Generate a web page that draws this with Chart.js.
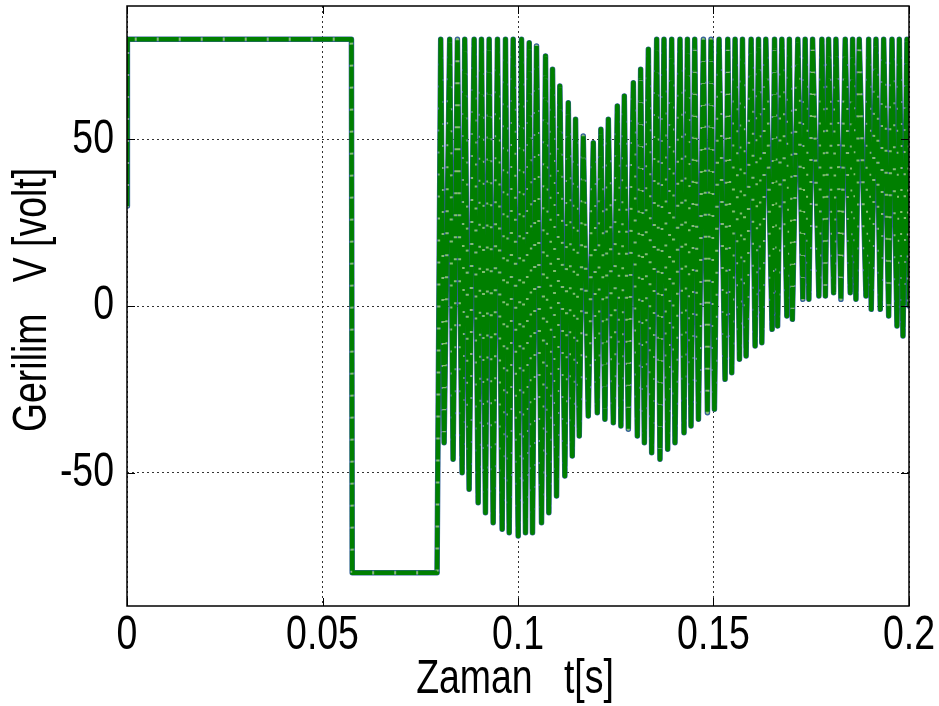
<!DOCTYPE html>
<html>
<head>
<meta charset="utf-8">
<title>Gerilim - Zaman</title>
<script src="https://cdn.jsdelivr.net/npm/chart.js@4/dist/chart.umd.min.js"></script>
<style>
  html, body { margin: 0; padding: 0; background: #fff; }
  #wrap { width: 939px; height: 706px; }
</style>
</head>
<body>
<div id="wrap"><canvas id="voltage-chart" width="939" height="706"></canvas></div>
<script>
// 起動区間：ステップ状の電圧 (t [s], V [volt])
const stepT = [0, 0.0001, 0.0574, 0.0576, 0.0793];
const stepV = [30, 80, 80, -80, -80];

// 振動区間：ピークと谷を交互に並べた値
const oscT = [
  0.08023, 0.08110, 0.08253, 0.08340, 0.08451, 0.08571, 0.08638, 0.08750,
  0.08878, 0.08981, 0.09065, 0.09168, 0.09262, 0.09365, 0.09475, 0.09595,
  0.09680, 0.09775, 0.09877, 0.10005, 0.10090, 0.10192, 0.10287, 0.10371,
  0.10474, 0.10602, 0.10704, 0.10789, 0.10883, 0.10986, 0.11070, 0.11198,
  0.11286, 0.11388, 0.11472, 0.11567, 0.11669, 0.11797, 0.11926, 0.12028,
  0.12120, 0.12223, 0.12310, 0.12438, 0.12540, 0.12632, 0.12719, 0.12822,
  0.12950, 0.13052, 0.13137, 0.13232, 0.13334, 0.13419, 0.13547, 0.13631,
  0.13734, 0.13828, 0.13931, 0.14015, 0.14143, 0.14246, 0.14333, 0.14425,
  0.14520, 0.14615, 0.14742, 0.14845, 0.14937, 0.15024, 0.15142, 0.15296,
  0.15365, 0.15467, 0.15552, 0.15664, 0.15741, 0.15834, 0.15962, 0.16064,
  0.16151, 0.16236, 0.16338, 0.16499, 0.16561, 0.16640, 0.16748, 0.16876,
  0.16940, 0.17017, 0.17157, 0.17285, 0.17344, 0.17439, 0.17534, 0.17695,
  0.17772, 0.17862, 0.17943, 0.18072, 0.18131, 0.18259, 0.18369, 0.18497,
  0.18558, 0.18643, 0.18727, 0.18899, 0.18968, 0.19034, 0.19155, 0.19265,
  0.19352, 0.19480, 0.19565, 0.19693, 0.19752, 0.19846, 0.19949, 0.2
];
const oscV = [
  80, -41, 80, -46, 80, -50, 80, -55,
  80, -59, 80, -62, 80, -65, 80, -67,
  80, -68, 80, -69, 80, -68, 79, -68,
  78, -65, 75, -62, 71, -57, 66, -51,
  61, -45, 56, -39, 51, -33, 49, -32,
  53, -34, 56, -35, 60, -36, 63, -37,
  67, -39, 71, -41, 77, -44, 80, -46,
  80, -43, 80, -41, 80, -38, 80, -36,
  80, -34, 80, -32, 80, -31, 80, -22,
  80, -20, 80, -16, 80, -15, 80, -12,
  80, -11, 80, -7, 80, -6, 80, -3,
  80, -4, 80, 2, 80, 2, 80, 3,
  80, 3, 80, 4, 80, 2, 80, 4,
  80, 2, 80, 3, 80, -1, 80, -1,
  80, -3, 80, -6, 80, -9, 80, 0
];

// 軸の目盛りとラベル
const xTicks = [0, 0.05, 0.1, 0.15, 0.2];
const yTicks = [-50, 0, 50];
const xTitle = 'Zaman   t[s]';
const yTitle = 'Gerilim   V [volt]';

const FONT = '"Liberation Sans", Arial, sans-serif';
const FONT_SIZE = 48;
const NARROW = 0.78;   // 横方向の縮小率（細身の文字）

/**
 * 横に縮めた文字を描く
 */
function narrowText(ctx, text, x, y, align, angle) {
  ctx.save();
  ctx.translate(x, y);
  if (angle) ctx.rotate(angle);
  ctx.scale(NARROW, 1);
  ctx.textAlign = align;
  ctx.textBaseline = 'middle';
  ctx.fillText(text, 0, 0);
  ctx.restore();
}

/**
 * 枠線・内向きの目盛り線・目盛りラベル・軸タイトルを描くプラグイン
 */
const frameTicks = {
  id: 'frameTicks',
  afterDraw(chart) {
    const { ctx, chartArea: a, scales } = chart;
    ctx.save();
    ctx.strokeStyle = '#000';
    ctx.lineWidth = 1.5;
    ctx.strokeRect(a.left, a.top, a.right - a.left, a.bottom - a.top);
    ctx.lineWidth = 1;
    const len = 8;
    ctx.beginPath();
    xTicks.forEach(v => {
      const px = Math.round(scales.x.getPixelForValue(v)) + 0.5;
      ctx.moveTo(px, a.bottom); ctx.lineTo(px, a.bottom - len);
      ctx.moveTo(px, a.top); ctx.lineTo(px, a.top + len);
    });
    yTicks.forEach(v => {
      const py = Math.round(scales.y.getPixelForValue(v)) + 0.5;
      ctx.moveTo(a.left, py); ctx.lineTo(a.left + len, py);
      ctx.moveTo(a.right, py); ctx.lineTo(a.right - len, py);
    });
    ctx.stroke();

    // 目盛りラベル
    ctx.fillStyle = '#000';
    ctx.font = FONT_SIZE + 'px ' + FONT;
    xTicks.forEach(v => {
      narrowText(ctx, String(v), scales.x.getPixelForValue(v), a.bottom + 30, 'center');
    });
    yTicks.forEach(v => {
      narrowText(ctx, String(v), a.left - 13, scales.y.getPixelForValue(v), 'right');
    });

    // 軸タイトル
    narrowText(ctx, xTitle, (a.left + a.right) / 2 - 3, a.bottom + 74, 'center');
    narrowText(ctx, yTitle, 33, (a.top + a.bottom) / 2 - 6, 'center', -Math.PI / 2);
    ctx.restore();
  }
};

function buildPoints() {
  const pts = [];
  stepT.forEach((t, i) => pts.push({ x: t, y: stepV[i] }));
  oscT.forEach((t, i) => pts.push({ x: t, y: oscV[i] }));
  return pts;
}

function initVoltageChart() {
  const ctx = document.getElementById('voltage-chart').getContext('2d');

  // order が大きいものほど下に描かれる
  new Chart(ctx, {
    type: 'line',
    data: {
      datasets: [
        {
          // 緑の破線（最前面）
          data: buildPoints(),
          order: 0,
          borderColor: '#007f00',
          borderWidth: 4.5,
          borderDash: [20, 2],
          pointRadius: 0,
          tension: 0,
          borderJoinStyle: 'round'
        },
        {
          // 破線の隙間に見える明るい緑
          data: buildPoints(),
          order: 1,
          borderColor: '#86c070',
          borderWidth: 3,
          pointRadius: 0,
          tension: 0,
          borderJoinStyle: 'round'
        },
        {
          // 下地の青線
          data: buildPoints(),
          order: 2,
          borderColor: '#34609a',
          borderWidth: 5.5,
          pointRadius: 0,
          tension: 0,
          borderJoinStyle: 'round',
          borderCapStyle: 'round'
        }
      ]
    },
    options: {
      responsive: false,
      animation: false,
      layout: { padding: { top: 6, right: 30, left: 0, bottom: 0 } },
      plugins: {
        legend: { display: false },
        tooltip: { enabled: false }
      },
      scales: {
        x: {
          type: 'linear',
          min: 0,
          max: 0.2,
          afterBuildTicks: s => { s.ticks = xTicks.map(v => ({ value: v })); },
          afterFit: s => { s.height = 100; },
          border: { display: false, dash: [2, 3] },
          grid: { color: '#333', lineWidth: 1, drawTicks: false },
          ticks: { display: false }
        },
        y: {
          type: 'linear',
          min: -90,
          max: 90,
          afterBuildTicks: s => { s.ticks = yTicks.map(v => ({ value: v })); },
          afterFit: s => { s.width = 127; },
          border: { display: false, dash: [2, 3] },
          grid: { color: '#333', lineWidth: 1, drawTicks: false },
          ticks: { display: false }
        }
      }
    },
    plugins: [frameTicks]
  });
}

initVoltageChart();
</script>
</body>
</html>
